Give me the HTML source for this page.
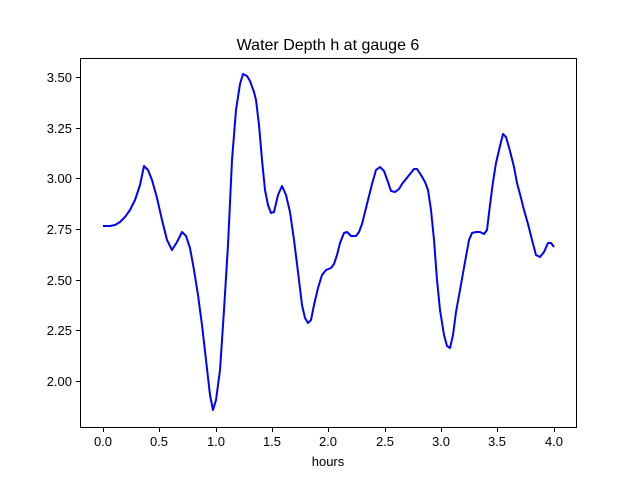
<!DOCTYPE html>
<html><head><meta charset="utf-8"><style>body{margin:0;background:#fff}</style></head><body>
<svg width="640" height="480" xmlns="http://www.w3.org/2000/svg" font-family="Liberation Sans, DejaVu Sans, sans-serif">
<rect width="640" height="480" fill="#fff"/>
<text x="328" y="50" font-size="16" text-anchor="middle">Water Depth h at gauge 6</text>
<polyline fill="none" stroke="#0000ff" stroke-width="2" stroke-linejoin="round" points="103,226 110,226 115,225 120,222 125,217 130,210 135,200 140,185 144,166 148,170 152,180 157,198 162,220 167,240 172,250 177,242 182,232 186,236 190,248 194,270 198,295 202,325 206,360 210,395 213,410 216,400 220,370 224,310 228,245 232,160 236,110 240,84 243,74 247,76 250,81 254,92 256,100 259,125 262,160 265,190 268,205 271,213 274,212 278,195 282,186 286,195 290,212 294,240 298,272 302,305 305,318 308,323 311,320 314,305 318,288 322,275 326,270 331,268 334,264 337,255 340,243 344,233 347,232 351,236 356,236 359,232 362,224 367,204 372,184 376,170 380,167 384,171 388,182 391,191 395,192 399,189 402,184 406,179 410,174 414,169 417,169 421,175 425,182 428,190 431,210 434,240 437,280 440,310 444,335 447,346 450,348 453,335 456,312 460,290 465,262 469,240 472,233 476,232 480,232 484,234 487,230 490,205 493,182 496,163 500,146 503,134 506,137 510,151 514,167 517,183 521,198 524,210 528,224 532,240 536,255 540,257 544,252 548,243 551,243 554,247"/>
<rect x="80.5" y="58.5" width="496" height="369" fill="none" stroke="#000" stroke-width="1"/>
<g stroke="#000" stroke-width="1">
<line x1="103.5" y1="428" x2="103.5" y2="432"/><line x1="159.5" y1="428" x2="159.5" y2="432"/><line x1="216.5" y1="428" x2="216.5" y2="432"/><line x1="272.5" y1="428" x2="272.5" y2="432"/><line x1="328.5" y1="428" x2="328.5" y2="432"/><line x1="385.5" y1="428" x2="385.5" y2="432"/><line x1="441.5" y1="428" x2="441.5" y2="432"/><line x1="497.5" y1="428" x2="497.5" y2="432"/><line x1="554.5" y1="428" x2="554.5" y2="432"/>
<line x1="76" y1="381.5" x2="80" y2="381.5"/><line x1="76" y1="330.5" x2="80" y2="330.5"/><line x1="76" y1="280.5" x2="80" y2="280.5"/><line x1="76" y1="229.5" x2="80" y2="229.5"/><line x1="76" y1="178.5" x2="80" y2="178.5"/><line x1="76" y1="128.5" x2="80" y2="128.5"/><line x1="76" y1="77.5" x2="80" y2="77.5"/>
</g>
<g font-size="13" text-anchor="middle">
<text x="103" y="446">0.0</text><text x="159" y="446">0.5</text><text x="216" y="446">1.0</text><text x="272" y="446">1.5</text><text x="328" y="446">2.0</text><text x="385" y="446">2.5</text><text x="441" y="446">3.0</text><text x="497" y="446">3.5</text><text x="554" y="446">4.0</text>
<text x="328" y="466">hours</text>
</g>
<g font-size="13" text-anchor="end">
<text x="72" y="386">2.00</text><text x="72" y="335">2.25</text><text x="72" y="285">2.50</text><text x="72" y="234">2.75</text><text x="72" y="183">3.00</text><text x="72" y="133">3.25</text><text x="72" y="82">3.50</text>
</g>
</svg>
</body></html>
